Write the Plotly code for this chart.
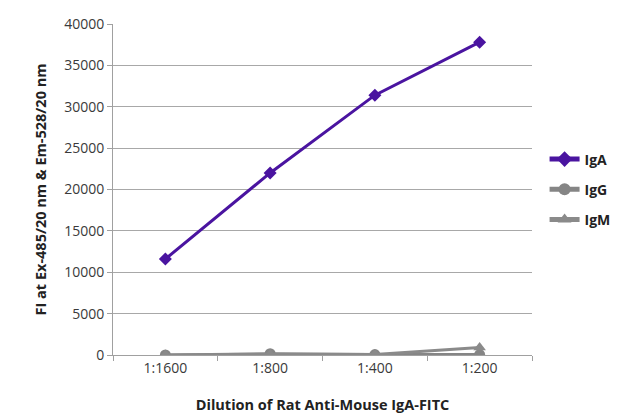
import plotly.graph_objects as go

categories = ["1:1600", "1:800", "1:400", "1:200"]
iga = [11600, 22000, 31400, 37800]
igg = [0, 150, 50, 50]
igm = [0, 100, 60, 900]
y_ticks = [0, 5000, 10000, 15000, 20000, 25000, 30000, 35000, 40000]
y_tick_text = [str(v) for v in y_ticks]

fig = go.Figure()
fig.add_trace(go.Scatter(x=categories, y=iga, name="<b>IgA</b>", mode="lines+markers",
                         legendgroup="a",
                         line=dict(color="#4a14a0", width=3),
                         marker=dict(symbol="diamond", size=10, color="#4a14a0")))
fig.add_trace(go.Scatter(x=categories, y=igg, name="<b>IgG</b>", mode="lines+markers",
                         legendgroup="g",
                         line=dict(color="#858585", width=3),
                         marker=dict(symbol="circle", size=11, color="#858585")))
fig.add_trace(go.Scatter(x=categories, y=igm, name="<b>IgM</b>", mode="lines+markers",
                         legendgroup="m",
                         line=dict(color="#8a8a8a", width=3),
                         marker=dict(symbol="triangle-up", size=11, color="#8a8a8a")))

font_family = "Open Sans, Lato, sans-serif"
fig.update_layout(
    width=642, height=417,
    margin=dict(l=113, r=110, t=24, b=62),
    paper_bgcolor="white", plot_bgcolor="white",
    font=dict(family=font_family, size=14, color="#333333"),
    showlegend=True,
    legend=dict(x=1.03, y=0.5, xanchor="left", yanchor="middle",
                font=dict(size=14, color="#222222", family=font_family),
                itemsizing="constant", tracegroupgap=9,
                bgcolor="rgba(0,0,0,0)"),
    xaxis=dict(type="category", categoryorder="array", categoryarray=categories,
               range=[-0.5, 3.5], showgrid=False, showline=True, automargin=False,
               linecolor="#a0a0a0", linewidth=1, tickfont=dict(size=14, color="#3a3a3a"),
               title=dict(text="<b>Dilution of Rat Anti-Mouse IgA-FITC</b>",
                          font=dict(size=14.5, color="#222222"), standoff=24),
               zeroline=False),
    yaxis=dict(range=[0, 40000], tickvals=y_ticks, ticktext=y_tick_text, automargin=False,
               showgrid=True, gridcolor="#a8a8a8",
               gridwidth=1, showline=True, linecolor="#a0a0a0", linewidth=1,
               ticks="outside", ticklen=5, tickcolor="#a0a0a0",
               tickfont=dict(size=14, color="#3a3a3a"), zeroline=False,
               title=dict(text="<b>FI at Ex-485/20 nm & Em-528/20 nm</b>",
                          font=dict(size=14.5, color="#222222"), standoff=14)),
)

fig.update_xaxes(ticks="outside", tickson="boundaries", ticklen=5, tickcolor="#a0a0a0")

fig.write_html("out.html")
